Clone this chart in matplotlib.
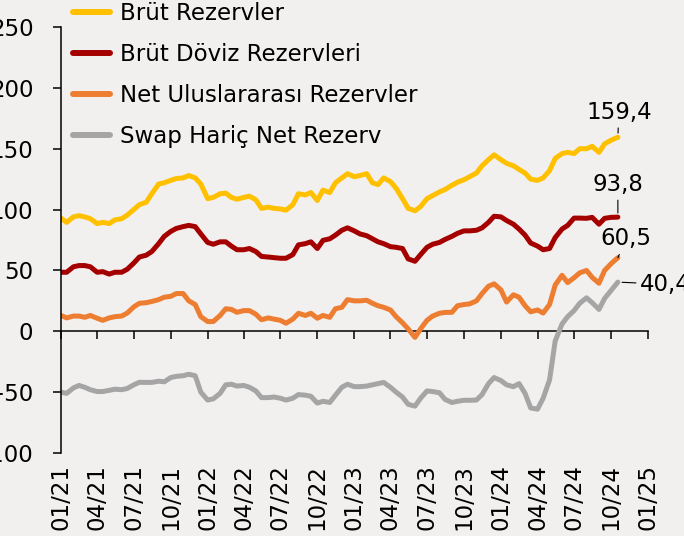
import numpy as np
import pandas as pd
import matplotlib
matplotlib.use("Agg")
import matplotlib.pyplot as plt
import matplotlib.dates as mdates

# ── Data (milyar $, yarım aylık okumalar) ────────────────────────────────────
dates = list(pd.date_range("2021-01-01", "2024-10-01", freq="SMS")) + [pd.Timestamp("2024-10-18")]

brut = [93, 89.5, 94, 95, 94, 92.5, 88.5, 89.5, 88.5, 91.5, 92.5, 95.5,
        100, 104, 106, 113, 121, 122, 124, 125.5, 126, 128, 126, 121,
        109, 110, 113, 113.5, 110, 108.5, 110, 111, 108, 101, 102, 101,
        100.5, 99.5, 104, 113, 112, 114, 107.5, 116, 114, 122, 126, 129.5,
        127, 128, 129.5, 122, 120.5, 126, 123, 117.5, 109, 101, 99, 102.5,
        109, 111.5, 114.5, 116.5, 120, 122.5, 124.5, 127, 130, 136, 141, 145,
        141, 138, 136, 133, 130, 125, 124, 126, 132, 142, 146, 147,
        146, 150, 150, 152, 147, 154, 157, 159.4]

brut_doviz = [48.5, 48.5, 53, 54, 54, 53, 48.5, 49, 47, 48.5, 48.5, 51,
              56, 61, 62.5, 65.5, 72, 78, 82, 84.5, 86, 87, 86, 80,
              73, 71.5, 73.5, 73.5, 70, 67, 67, 68, 65.5, 61.5, 61, 60.5,
              60, 60, 63, 71, 72, 73.5, 68, 74.7, 76, 79, 83, 85,
              82.5, 80, 78.5, 76, 73.5, 72, 69.5, 69, 68, 59.5, 57.5, 63,
              69, 71.5, 73, 75.5, 78, 80.5, 82.5, 82.5, 83, 85, 89.5, 94.5,
              94, 91, 88, 84, 79, 72.5, 70, 67, 68, 77, 84, 87,
              93, 93, 92.8, 93.6, 88, 92.8, 93.6, 93.8]

net_ur = [13, 11, 12.5, 12.5, 11.5, 13, 10.7, 9, 11, 12, 12.5, 15,
          20, 23, 23.5, 24.5, 26, 28, 28.7, 31, 31, 25, 22, 12,
          8, 8, 13, 18.5, 18, 15.6, 17, 17, 14, 9.5, 11, 10,
          9, 6.6, 10, 14.8, 13, 14.8, 10.7, 13, 11.5, 18.5, 19.7, 26,
          25, 25, 25.5, 23, 21, 19.7, 17.5, 12, 7, 2, -5, 2,
          9, 12.5, 14.8, 15.5, 15.6, 21, 22, 22.5, 25, 31, 37, 39,
          34, 24, 30, 28, 21, 16, 17.5, 15, 22, 38, 46, 40,
          44, 48, 50, 44.3, 39.5, 50, 55.5, 60.5]

swap_haric = [-50, -51, -46.5, -44.5, -46, -48, -49.5, -49.5, -48.5, -47.6, -48, -47,
              -44, -41.9, -42, -42, -41, -41.5, -38, -37, -36.5, -35.3, -36.5, -50,
              -56.5, -55.5, -51, -44, -43.5, -45, -44.5, -46, -49, -54.5, -54.5, -54,
              -55, -56.5, -55, -52, -52.5, -53.4, -59, -57.5, -58.5, -52.5, -46, -43.5,
              -45.5, -45.5, -45, -44, -43, -42, -46, -50, -54, -60, -61.5, -55,
              -49, -49.5, -50.5, -56, -58.5, -57.5, -56.7, -56.7, -56.5, -52, -43, -38,
              -40.5, -44, -45.5, -43, -51, -63, -64, -55, -40, -8, 6, 12,
              17, 23, 27.5, 23.5, 18, 27, 33.5, 40.4]

labels = ["Brüt Rezervler", "Brüt Döviz Rezervleri",
          "Net Uluslararası Rezervler", "Swap Hariç Net Rezerv"]
colors = ["#FFC000", "#A50000", "#ED7D31", "#A5A5A5"]
series = [brut, brut_doviz, net_ur, swap_haric]
end_labels = ["159,4", "93,8", "60,5", "40,4"]

tick_dates = pd.date_range("2021-01-01", "2025-01-01", freq="QS")
tick_labels = [d.strftime("%m/%y") for d in tick_dates]

# ── Figure ───────────────────────────────────────────────────────────────────
bg = "#F2F0EF"
fs = 16.5
plt.rcParams["font.family"] = ["DejaVu Sans"]

fig = plt.figure(figsize=(6.84, 5.36), dpi=100, facecolor=bg)
ax = fig.add_axes([61 / 684, 1 - 453 / 536, (648 - 61) / 684, (453 - 27) / 536])
ax.set_facecolor(bg)

handles = []
for s, c, lab in zip(series, colors, labels):
    h, = ax.plot(dates, s, color=c, lw=3.6, label=lab, solid_capstyle="round",
                 solid_joinstyle="round")
    handles.append(h)

ax.set_ylim(-100, 250)
ax.set_yticks(np.arange(-100, 251, 50))
x0 = mdates.date2num(tick_dates[0])
x1 = mdates.date2num(tick_dates[-1])
ax.set_xlim(x0, x1)

for side in ["top", "right", "bottom"]:
    ax.spines[side].set_visible(False)
ax.spines["left"].set_linewidth(1.1)
ax.tick_params(axis="y", direction="out", length=5.8, width=1.1, labelsize=fs, pad=14)

# x labels at the bottom, tick marks on the zero line
ax.set_xticks(mdates.date2num(tick_dates))
ax.set_xticklabels(tick_labels, rotation=90, fontsize=fs)
ax.tick_params(axis="x", length=0, pad=8)

zero_ax = ax.secondary_xaxis(100 / 350)
zero_ax.set_xticks(mdates.date2num(tick_dates))
zero_ax.tick_params(axis="x", direction="out", length=5.8, width=1.1, labelbottom=False)
zero_ax.spines["bottom"].set_linewidth(1.1)

# end-of-series labels
offsets = [((0.7, 18), "center"), ((0, 23.5), "center"), ((6, 13.5), "center"), ((16, -1.5), "left")]
for s, txt, (off, ha) in zip(series, end_labels, offsets):
    ax.annotate(txt, xy=(dates[-1], s[-1]), xytext=off, textcoords="offset points",
                ha=ha, va="center", fontsize=fs,
                arrowprops=dict(arrowstyle="-", color="black", lw=0.8, shrinkA=1, shrinkB=3))

leg = fig.legend(handles=handles, loc="upper left", bbox_to_anchor=(73 / 684, 1 - 2 / 536),
                 bbox_transform=fig.transFigure, frameon=False, fontsize=fs,
                 handlelength=1.6, handletextpad=0.45, labelspacing=0.78,
                 borderpad=0, borderaxespad=0)
for line in leg.get_lines():
    line.set_linewidth(4.3)
    line.set_solid_capstyle("round")

fig.savefig("out.png", dpi=100, facecolor=bg)
